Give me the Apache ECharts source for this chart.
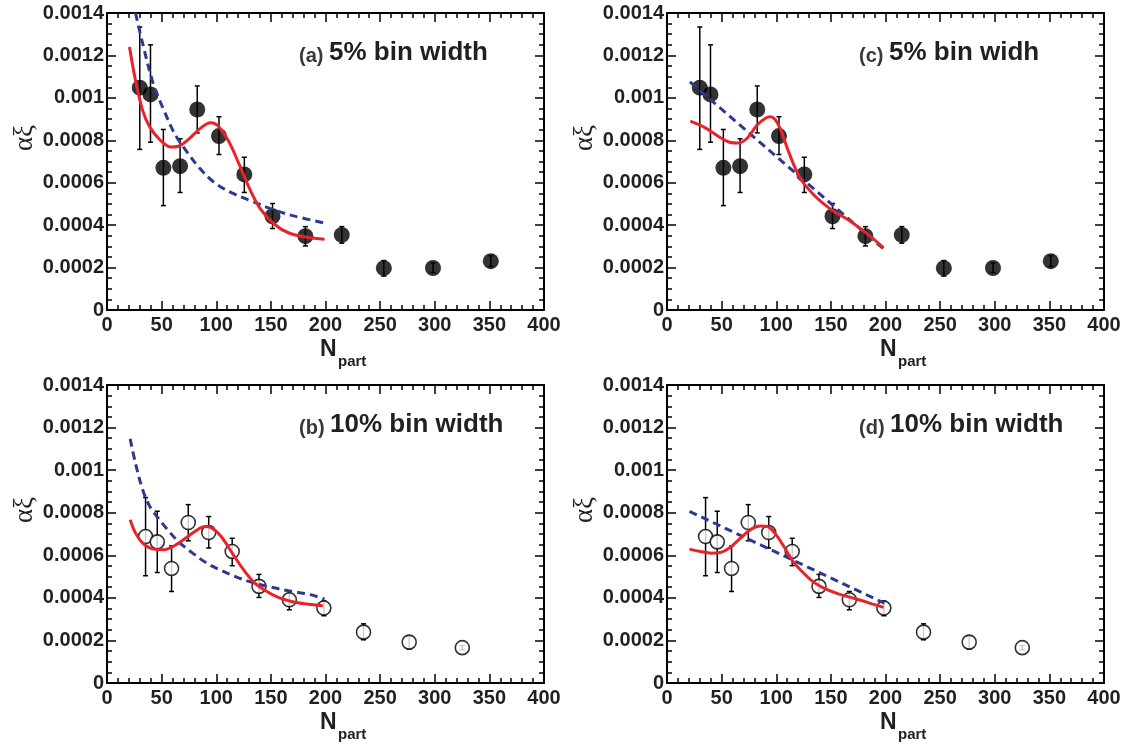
<!DOCTYPE html>
<html><head><meta charset="utf-8">
<script src="https://cdn.jsdelivr.net/npm/echarts@6/dist/echarts.min.js"></script>
<style>html,body{margin:0;padding:0;background:#fff}#c{width:1129px;height:748px}</style>
</head><body><div id="c"></div>
<script>
// ---------- data: 5% bin width (panels a, c) ----------
const npart5  = [30.0, 39.8, 51.6, 66.9, 82.6, 102.5, 125.7, 151.5, 181.6, 214.9, 253.4, 298.4, 351.3];
const alpha5  = [0.001048, 0.001016, 0.00067, 0.000678, 0.000945, 0.00082, 0.000639, 0.000442, 0.000348, 0.000354, 0.000197, 0.000198, 0.00023];
const errHi5  = [0.001334, 0.00125, 0.000851, 0.000807, 0.001056, 0.000911, 0.00072, 0.000502, 0.000393, 0.000393, 0.000233, 0.000222, 0.000255];
const errLo5  = [0.000757, 0.000791, 0.000492, 0.000554, 0.000835, 0.000733, 0.000554, 0.000384, 0.000302, 0.000315, 0.00016, 0.000176, 0.000205];

// ---------- data: 10% bin width (panels b, d) ----------
const npart10 = [35.3, 46.0, 59.1, 74.4, 93.1, 114.6, 139.1, 166.9, 198.5, 234.8, 276.6, 325.2];
const alpha10 = [0.000688, 0.000663, 0.000538, 0.000754, 0.000707, 0.000618, 0.000454, 0.000391, 0.000352, 0.000239, 0.000192, 0.000166];
const errHi10 = [0.000871, 0.000807, 0.000644, 0.000838, 0.000782, 0.00068, 0.00051, 0.00043, 0.000385, 0.000278, 0.000219, 0.000176];
const errLo10 = [0.000504, 0.000519, 0.00043, 0.000668, 0.000634, 0.000551, 0.000402, 0.000344, 0.000316, 0.000203, 0.00016, 0.000156];

// ---------- fit curves ----------
const redAx  = [20.6, 26.1, 32.7, 39.2, 49, 58.8, 65.3, 75.1, 84.9, 94.7, 101.2, 111, 120.8, 130.6, 140.4, 153.5, 166.5, 182.9, 199.2];
const redAy  = [0.00124, 0.001082, 0.00094, 0.000862, 0.000799, 0.000768, 0.000772, 0.000807, 0.000854, 0.000883, 0.00087, 0.000799, 0.000689, 0.000571, 0.000477, 0.000403, 0.000363, 0.000343, 0.000333];
const blueAx = [26.1, 32.7, 42.4, 52.2, 62, 71.8, 84.9, 98, 114.3, 130.6, 150.2, 169.8, 199.2];
const blueAy = [0.0014, 0.001255, 0.001066, 0.00094, 0.00083, 0.000755, 0.000668, 0.000602, 0.000552, 0.000517, 0.000477, 0.000445, 0.00041];

const redCx  = [21.3, 33.9, 47.2, 57.1, 65.4, 73.8, 82.1, 90.4, 94.5, 99, 103.7, 110.3, 117, 123.6, 133.6, 143.5, 153.5, 166.8, 183.4, 198.3];
const redCy  = [0.00089, 0.000862, 0.000818, 0.000791, 0.000787, 0.000812, 0.00087, 0.000905, 0.000911, 0.000898, 0.000854, 0.00076, 0.000673, 0.000608, 0.000547, 0.0005, 0.000462, 0.000422, 0.000359, 0.000293];
const blueCx = [21, 200];
const blueCy = [0.001075, 0.00028];

const redBx  = [21.2, 26.1, 32.7, 42.4, 52.2, 62, 71.8, 81.6, 89.8, 96.3, 104.5, 114.3, 124.1, 133.9, 143.7, 156.7, 169.8, 182.9, 197.6];
const redBy  = [0.000767, 0.000704, 0.000657, 0.000629, 0.000626, 0.000646, 0.00068, 0.000716, 0.000735, 0.000727, 0.000688, 0.000613, 0.000538, 0.000476, 0.000438, 0.000402, 0.000382, 0.000371, 0.000363];
const blueBx = [21.2, 26.1, 32.7, 39.2, 45.7, 55.5, 65.3, 78.4, 91.4, 104.5, 117.6, 130.6, 150.2, 169.8, 186.1, 199.2];
const blueBy = [0.001147, 0.001032, 0.000907, 0.000829, 0.000782, 0.00072, 0.000665, 0.00061, 0.000563, 0.000529, 0.0005, 0.000476, 0.00045, 0.00043, 0.000415, 0.000394];

const redDx  = [20.6, 30.6, 40.5, 48.8, 57.1, 67.1, 77.1, 85.4, 92, 98.7, 107, 115.3, 123.6, 133.6, 143.5, 156.8, 170.1, 183.4, 198.3];
const redDy  = [0.000629, 0.000618, 0.00061, 0.000613, 0.000634, 0.00068, 0.000723, 0.000738, 0.000735, 0.000704, 0.000641, 0.000571, 0.000524, 0.000476, 0.000446, 0.000419, 0.000399, 0.000379, 0.000355];
const blueDx = [20.6, 199];
const blueDy = [0.000806, 0.000375];

// ---------- labels ----------
const panelTags   = ['(a) ', '(c) ', '(b) ', '(d) '];
const panelTitles = ['5% bin width', '5% bin widh', '10% bin width', '10% bin width'];
const xTitleMain = 'N', xTitleSub = 'part', yTitle = 'αξ';

// ---------- layout ----------
const TXT = '#231f20';
const FONT = '"Liberation Sans", Arial, sans-serif';
const RED = '#e8242a', BLUE = '#2b3990';
const panels = [
  {left:107, top:13, h:297, set:5,  red:[redAx,redAy], blue:[blueAx,blueAy]},
  {left:667, top:13, h:297, set:5,  red:[redCx,redCy], blue:[blueCx,blueCy]},
  {left:107, top:385, h:298, set:10, red:[redBx,redBy], blue:[blueBx,blueBy]},
  {left:667, top:385, h:298, set:10, red:[redDx,redDy], blue:[blueDx,blueDy]}
];
const W = 437;

const zip = (xs, ys) => xs.map((x, i) => [x, ys[i]]);
const fmtY = v => v === 0 ? '0' : String(parseFloat((+v).toFixed(4)));

const grid = [], xAxis = [], yAxis = [], series = [], graphic = [];
const tickStyle = {color:'#000', width:1.5};

panels.forEach((p, i) => {
  grid.push({left:p.left, top:p.top, width:W, height:p.h, show:false, containLabel:false, outerBoundsMode:'none'});
  ['bottom','top'].forEach(pos => xAxis.push({
    type:'value', gridIndex:i, position:pos, min:0, max:400, interval:50,
    axisLine:{show:true, onZero:false, lineStyle:{color:'#000', width:2}},
    axisTick:{show:true, inside:true, length:9, lineStyle:tickStyle},
    minorTick:{show:true, splitNumber:5, length:5, lineStyle:tickStyle},
    splitLine:{show:false}, minorSplitLine:{show:false},
    axisLabel:{show:pos==='bottom', margin:5, fontSize:20, fontWeight:'bold', fontFamily:FONT, color:TXT}
  }));
  ['left','right'].forEach(pos => yAxis.push({
    type:'value', gridIndex:i, position:pos, min:0, max:0.0014, interval:0.0002,
    axisLine:{show:true, onZero:false, lineStyle:{color:'#000', width:2}},
    axisTick:{show:true, inside:true, length:9, lineStyle:tickStyle},
    minorTick:{show:true, splitNumber:4, length:5, lineStyle:tickStyle},
    splitLine:{show:false}, minorSplitLine:{show:false},
    axisLabel:{show:pos==='left', margin:3, fontSize:20, fontWeight:'bold', fontFamily:FONT, color:TXT, formatter:fmtY}
  }));
  const xi = i*2, yi = i*2;
  const nx = p.set===5 ? npart5 : npart10;
  const ny = p.set===5 ? alpha5 : alpha10;
  const hi = p.set===5 ? errHi5 : errHi10;
  const lo = p.set===5 ? errLo5 : errLo10;
  // error bars
  series.push({
    type:'custom', xAxisIndex:xi, yAxisIndex:yi, z:2, silent:true,
    data: nx.map((x, k) => [x, hi[k], lo[k]]),
    renderItem:(params, api) => {
      const a = api.coord([api.value(0), api.value(1)]);
      const b = api.coord([api.value(0), api.value(2)]);
      const st = {stroke:'#000', lineWidth:1.5};
      return {type:'group', children:[
        {type:'line', shape:{x1:a[0], y1:a[1], x2:b[0], y2:b[1]}, style:st},
        {type:'line', shape:{x1:a[0]-2.5, y1:a[1], x2:a[0]+2.5, y2:a[1]}, style:st},
        {type:'line', shape:{x1:b[0]-2.5, y1:b[1], x2:b[0]+2.5, y2:b[1]}, style:st}
      ]};
    }
  });
  // markers
  series.push({
    type:'scatter', xAxisIndex:xi, yAxisIndex:yi, z:3, silent:true,
    symbol:'circle', symbolSize: p.set===5 ? 16 : 14,
    itemStyle: p.set===5 ? {color:'#000'} : {color:'#fff', borderColor:'#000', borderWidth:1.6},
    data: zip(nx, ny)
  });
  // fits
  series.push({
    type:'line', xAxisIndex:xi, yAxisIndex:yi, z:4, silent:true, showSymbol:false, symbol:'none',
    smooth: p.blue[0].length > 2 ? 0.35 : false,
    lineStyle:{color:BLUE, width:3, type:[8,5]},
    data: zip(p.blue[0], p.blue[1])
  });
  series.push({
    type:'line', xAxisIndex:xi, yAxisIndex:yi, z:5, silent:true, showSymbol:false, symbol:'none',
    smooth:0.35, lineStyle:{color:RED, width:3},
    data: zip(p.red[0], p.red[1])
  });
  // texts
  const bottom = p.top + p.h;
  graphic.push({type:'text', x:p.left+192, y:p.top+40, silent:true, style:{
    text:'{t|'+panelTags[i]+'}{b|'+panelTitles[i]+'}', verticalAlign:'middle', fill:TXT,
    rich:{t:{fontSize:20, fontFamily:FONT, fontWeight:'bold', fill:'#3a3638', verticalAlign:'bottom'},
          b:{fontSize:26, fontFamily:FONT, fontWeight:'bold', fill:TXT, verticalAlign:'bottom'}}
  }});
  graphic.push({type:'text', x:p.left+213, y:bottom+40, silent:true, style:{
    text:xTitleMain, fontSize:23, fontWeight:'bold', fontFamily:FONT, fill:TXT, verticalAlign:'middle'}});
  graphic.push({type:'text', x:p.left+231, y:bottom+52, silent:true, style:{
    text:xTitleSub, fontSize:15, fontWeight:'bold', fontFamily:FONT, fill:TXT, verticalAlign:'middle'}});
  graphic.push({type:'text', x:p.left-82, y:p.top+125, rotation:Math.PI/2, silent:true, style:{
    text:yTitle, fontSize:27, fontFamily:'"Liberation Serif", serif', fill:TXT, align:'center', verticalAlign:'middle'}});
});

const chart = echarts.init(document.getElementById('c'), null, {renderer:'canvas'});
chart.setOption({animation:false, backgroundColor:'#fff', grid, xAxis, yAxis, series, graphic});
</script>
</body></html>
